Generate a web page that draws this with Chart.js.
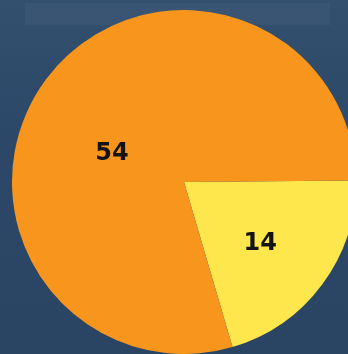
<!DOCTYPE html>
<html>
<head>
<meta charset="UTF-8">
<title>Pie</title>
<script src="https://cdn.jsdelivr.net/npm/chart.js"></script>
<style>
  html, body { margin: 0; padding: 0; width: 348px; height: 354px; overflow: hidden; }
  body { background: linear-gradient(180deg, #33506f 0%, #2c4767 40%, #2a4464 100%); position: relative; }
  .band { position: absolute; background: rgba(255,255,255,0.035); }
  #wrap { position: absolute; left: 12px; top: 10px; width: 344px; height: 344px; }
</style>
</head>
<body>
<div class="band" style="left:25px; top:3px; width:305px; height:22px;"></div>
<div id="wrap"><canvas id="chart"></canvas></div>
<script>
  const labels = ['B', 'A'];
  const values = [14, 54];
  const colors = ['#fde74c', '#f7951d'];

  // value text drawn inside each slice
  const sliceLabels = {
    id: 'sliceLabels',
    afterDatasetsDraw(chart, args, opts) {
      const ctx = chart.ctx;
      const meta = chart.getDatasetMeta(0);
      ctx.save();
      ctx.fillStyle = '#141414';
      ctx.font = 'bold 24px "DejaVu Sans", sans-serif';
      ctx.textAlign = 'center';
      ctx.textBaseline = 'middle';
      meta.data.forEach((arc, i) => {
        const p = arc.getProps(['x', 'y', 'startAngle', 'endAngle', 'outerRadius']);
        const mid = (p.startAngle + p.endAngle) / 2 + opts.shift[i] * Math.PI / 180;
        const r = p.outerRadius * opts.frac[i];
        ctx.fillText(String(values[i]), p.x + Math.cos(mid) * r, p.y + Math.sin(mid) * r);
      });
      ctx.restore();
    }
  };

  new Chart(document.getElementById('chart'), {
    type: 'pie',
    data: {
      labels: labels,
      datasets: [{
        data: values,
        backgroundColor: colors,
        borderWidth: 0
      }]
    },
    options: {
      responsive: true,
      maintainAspectRatio: false,
      animation: false,
      rotation: 89.5,
      layout: { padding: 0 },
      plugins: {
        legend: { display: false },
        tooltip: { enabled: false },
        sliceLabels: { frac: [0.57, 0.45], shift: [2.5, -15] }
      }
    },
    plugins: [sliceLabels]
  });
</script>
</body>
</html>
